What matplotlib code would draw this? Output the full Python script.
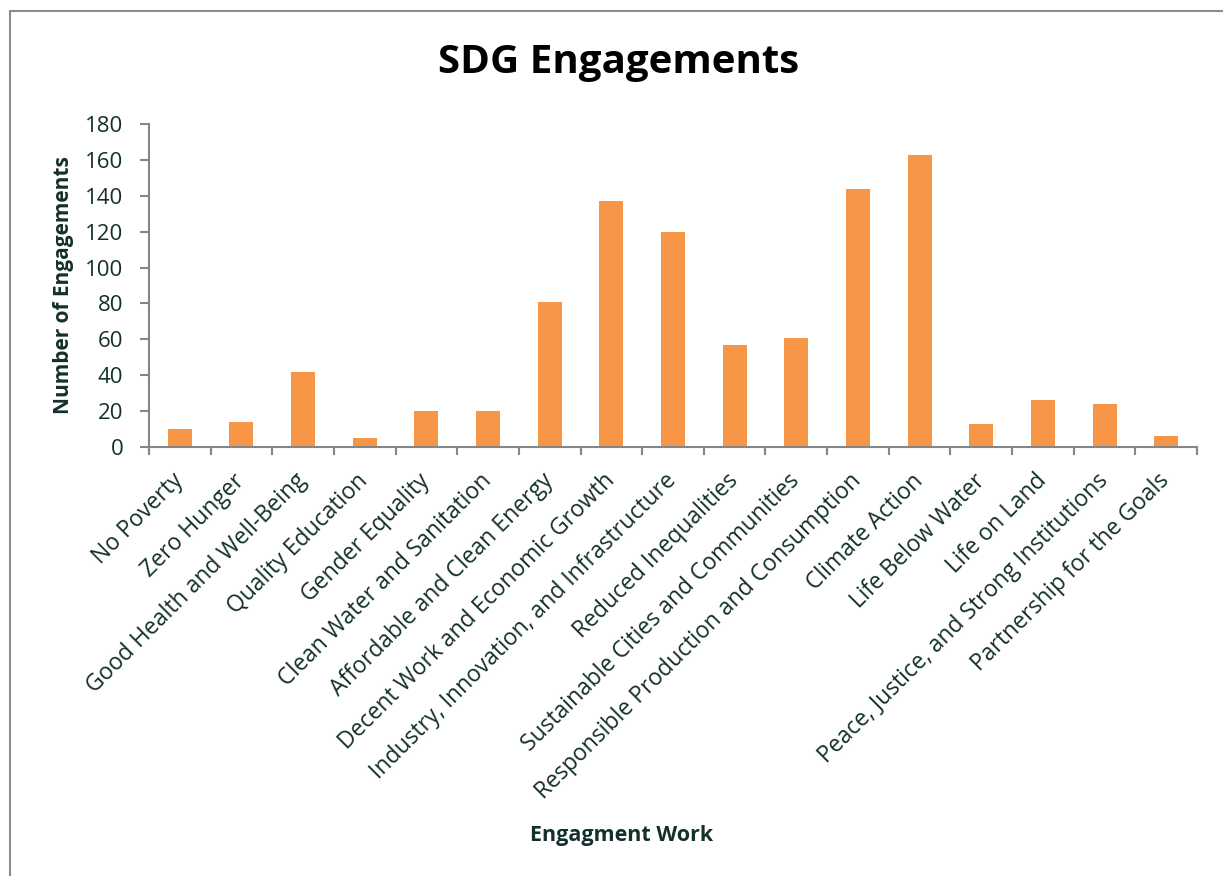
import numpy as np
import matplotlib
matplotlib.use('Agg')
import matplotlib.pyplot as plt
from matplotlib.patches import Rectangle

plt.rcParams['font.family'] = ['Open Sans', 'DejaVu Sans']

goals = ['No Poverty', 'Zero Hunger', 'Good Health and Well-Being', 'Quality Education',
         'Gender Equality', 'Clean Water and Sanitation', 'Affordable and Clean Energy',
         'Decent Work and Economic Growth', 'Industry, Innovation, and Infrastructure',
         'Reduced Inequalities', 'Sustainable Cities and Communities',
         'Responsible Production and Consumption', 'Climate Action', 'Life Below Water',
         'Life on Land', 'Peace, Justice, and Strong Institutions', 'Partnership for the Goals']
engagements = [10, 14, 42, 5, 20, 20, 81, 137, 120, 57, 61, 144, 163, 13, 26, 24, 6]
yticks = [0, 20, 40, 60, 80, 100, 120, 140, 160, 180]

txt = '#14302c'
axis_grey = '#868686'
bar_col = '#F79646'

fig = plt.figure(figsize=(12.23, 8.76), dpi=100)
ax = fig.add_axes([149/1223, 1 - 447/876, 1048/1223, 323/876])

# outer chart border (runs off the right/bottom edge like the original)
fig.patches.append(Rectangle((10/1223, -0.05), 1.2, 1 - 11/876 + 0.05, transform=fig.transFigure,
                             fill=False, edgecolor='#8c8c8c', linewidth=1.5))

x = np.arange(len(goals))
ax.bar(x, engagements, width=0.39, color=bar_col, zorder=2)

ax.set_xlim(-0.5, len(goals) - 0.5)
ax.set_ylim(0, 180)
ax.set_yticks(yticks)
ax.set_yticklabels([str(v) for v in yticks], fontsize=16, color=txt)

ax.set_xticks(x)
ax.set_xticklabels(goals, rotation=45, ha='right', va='center', rotation_mode='anchor',
                   fontsize=16.5, color=txt)
ax.set_xticks(np.arange(len(goals) + 1) - 0.5, minor=True)
ax.tick_params(axis='x', which='major', length=0, pad=22)
ax.tick_params(axis='x', which='minor', length=6, width=1.5, color=axis_grey, direction='out')
ax.tick_params(axis='y', length=6.5, width=1.5, color=axis_grey, pad=12)

for s in ['top', 'right']:
    ax.spines[s].set_visible(False)
for s in ['left', 'bottom']:
    ax.spines[s].set_color(axis_grey)
    ax.spines[s].set_linewidth(1.5)

ax.set_ylabel('Number of Engagements', fontsize=15, fontweight='bold', color=txt)
ax.yaxis.set_label_coords(-0.072, 0.5)

fig.text(619/1223, 1 - 62/876, 'SDG Engagements', fontsize=29, fontweight='bold',
         color='black', ha='center', va='center')
fig.text(622/1223, 1 - 836/876, 'Engagment Work', fontsize=15.5, fontweight='bold',
         color=txt, ha='center', va='center')

fig.savefig('out.png', dpi=100)
